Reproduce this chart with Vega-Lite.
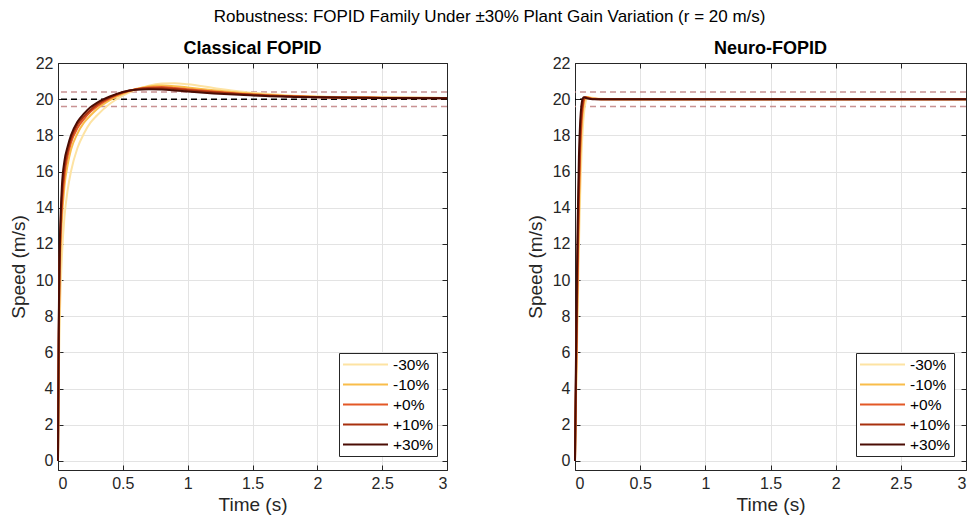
{
  "$schema": "https://vega.github.io/schema/vega-lite/v6.json",
  "padding": {"left": 8, "top": 7, "right": 5, "bottom": 5},
  "title": {"text": "Robustness: FOPID Family Under ±30% Plant Gain Variation  (r = 20 m/s)", "fontSize": 17, "fontWeight": "normal", "color": "#000000", "anchor": "middle", "offset": 14},
  "datasets": {
    "band": [{"y": 19.6}, {"y": 20.4}],
    "ref": [{"y": 20}],
    "classical": [
      {"t":0,"v":0,"g":"-30%"},{"t":0.005,"v":4,"g":"-30%"},{"t":0.01,"v":6.5,"g":"-30%"},{"t":0.02,"v":9.5,"g":"-30%"},{"t":0.03,"v":11.3,"g":"-30%"},{"t":0.05,"v":13.5,"g":"-30%"},{"t":0.075,"v":15,"g":"-30%"},{"t":0.1,"v":16,"g":"-30%"},{"t":0.15,"v":17.3,"g":"-30%"},{"t":0.2,"v":18.1,"g":"-30%"},{"t":0.25,"v":18.7,"g":"-30%"},{"t":0.3,"v":19.1,"g":"-30%"},{"t":0.4,"v":19.75,"g":"-30%"},{"t":0.5,"v":20.2,"g":"-30%"},{"t":0.6,"v":20.52,"g":"-30%"},{"t":0.7,"v":20.75,"g":"-30%"},{"t":0.8,"v":20.86,"g":"-30%"},{"t":0.9,"v":20.88,"g":"-30%"},{"t":1.0,"v":20.82,"g":"-30%"},{"t":1.2,"v":20.62,"g":"-30%"},{"t":1.4,"v":20.43,"g":"-30%"},{"t":1.6,"v":20.3,"g":"-30%"},{"t":1.8,"v":20.2,"g":"-30%"},{"t":2.0,"v":20.15,"g":"-30%"},{"t":2.5,"v":20.1,"g":"-30%"},{"t":3.0,"v":20.07,"g":"-30%"},
      {"t":0,"v":0,"g":"-10%"},{"t":0.005,"v":5.3,"g":"-10%"},{"t":0.01,"v":8.5,"g":"-10%"},{"t":0.02,"v":11.6,"g":"-10%"},{"t":0.03,"v":13.3,"g":"-10%"},{"t":0.05,"v":15.2,"g":"-10%"},{"t":0.075,"v":16.4,"g":"-10%"},{"t":0.1,"v":17.2,"g":"-10%"},{"t":0.15,"v":18.1,"g":"-10%"},{"t":0.2,"v":18.7,"g":"-10%"},{"t":0.25,"v":19.1,"g":"-10%"},{"t":0.3,"v":19.45,"g":"-10%"},{"t":0.4,"v":19.95,"g":"-10%"},{"t":0.5,"v":20.3,"g":"-10%"},{"t":0.6,"v":20.56,"g":"-10%"},{"t":0.7,"v":20.7,"g":"-10%"},{"t":0.8,"v":20.75,"g":"-10%"},{"t":0.9,"v":20.72,"g":"-10%"},{"t":1.0,"v":20.65,"g":"-10%"},{"t":1.2,"v":20.49,"g":"-10%"},{"t":1.4,"v":20.35,"g":"-10%"},{"t":1.6,"v":20.25,"g":"-10%"},{"t":1.8,"v":20.18,"g":"-10%"},{"t":2.0,"v":20.13,"g":"-10%"},{"t":2.5,"v":20.08,"g":"-10%"},{"t":3.0,"v":20.06,"g":"-10%"},
      {"t":0,"v":0,"g":"+0%"},{"t":0.005,"v":6,"g":"+0%"},{"t":0.01,"v":9.5,"g":"+0%"},{"t":0.02,"v":12.5,"g":"+0%"},{"t":0.03,"v":14,"g":"+0%"},{"t":0.05,"v":15.8,"g":"+0%"},{"t":0.075,"v":16.9,"g":"+0%"},{"t":0.1,"v":17.6,"g":"+0%"},{"t":0.15,"v":18.4,"g":"+0%"},{"t":0.2,"v":18.9,"g":"+0%"},{"t":0.25,"v":19.3,"g":"+0%"},{"t":0.3,"v":19.6,"g":"+0%"},{"t":0.4,"v":20.05,"g":"+0%"},{"t":0.5,"v":20.35,"g":"+0%"},{"t":0.6,"v":20.55,"g":"+0%"},{"t":0.7,"v":20.65,"g":"+0%"},{"t":0.8,"v":20.67,"g":"+0%"},{"t":0.9,"v":20.62,"g":"+0%"},{"t":1.0,"v":20.55,"g":"+0%"},{"t":1.2,"v":20.42,"g":"+0%"},{"t":1.4,"v":20.3,"g":"+0%"},{"t":1.6,"v":20.22,"g":"+0%"},{"t":1.8,"v":20.16,"g":"+0%"},{"t":2.0,"v":20.12,"g":"+0%"},{"t":2.5,"v":20.08,"g":"+0%"},{"t":3.0,"v":20.06,"g":"+0%"},
      {"t":0,"v":0,"g":"+10%"},{"t":0.005,"v":6.5,"g":"+10%"},{"t":0.01,"v":10,"g":"+10%"},{"t":0.02,"v":13,"g":"+10%"},{"t":0.03,"v":14.6,"g":"+10%"},{"t":0.05,"v":16.2,"g":"+10%"},{"t":0.075,"v":17.15,"g":"+10%"},{"t":0.1,"v":17.8,"g":"+10%"},{"t":0.15,"v":18.6,"g":"+10%"},{"t":0.2,"v":19.05,"g":"+10%"},{"t":0.25,"v":19.4,"g":"+10%"},{"t":0.3,"v":19.7,"g":"+10%"},{"t":0.4,"v":20.1,"g":"+10%"},{"t":0.5,"v":20.38,"g":"+10%"},{"t":0.6,"v":20.54,"g":"+10%"},{"t":0.7,"v":20.6,"g":"+10%"},{"t":0.8,"v":20.6,"g":"+10%"},{"t":0.9,"v":20.56,"g":"+10%"},{"t":1.0,"v":20.5,"g":"+10%"},{"t":1.2,"v":20.38,"g":"+10%"},{"t":1.4,"v":20.28,"g":"+10%"},{"t":1.6,"v":20.2,"g":"+10%"},{"t":1.8,"v":20.15,"g":"+10%"},{"t":2.0,"v":20.11,"g":"+10%"},{"t":2.5,"v":20.07,"g":"+10%"},{"t":3.0,"v":20.05,"g":"+10%"},
      {"t":0,"v":0,"g":"+30%"},{"t":0.005,"v":7,"g":"+30%"},{"t":0.01,"v":10.5,"g":"+30%"},{"t":0.02,"v":13.5,"g":"+30%"},{"t":0.03,"v":15.2,"g":"+30%"},{"t":0.05,"v":16.6,"g":"+30%"},{"t":0.075,"v":17.4,"g":"+30%"},{"t":0.1,"v":18,"g":"+30%"},{"t":0.15,"v":18.75,"g":"+30%"},{"t":0.2,"v":19.2,"g":"+30%"},{"t":0.25,"v":19.55,"g":"+30%"},{"t":0.3,"v":19.8,"g":"+30%"},{"t":0.4,"v":20.15,"g":"+30%"},{"t":0.5,"v":20.4,"g":"+30%"},{"t":0.6,"v":20.52,"g":"+30%"},{"t":0.7,"v":20.55,"g":"+30%"},{"t":0.8,"v":20.53,"g":"+30%"},{"t":0.9,"v":20.48,"g":"+30%"},{"t":1.0,"v":20.42,"g":"+30%"},{"t":1.2,"v":20.32,"g":"+30%"},{"t":1.4,"v":20.24,"g":"+30%"},{"t":1.6,"v":20.17,"g":"+30%"},{"t":1.8,"v":20.13,"g":"+30%"},{"t":2.0,"v":20.1,"g":"+30%"},{"t":2.5,"v":20.06,"g":"+30%"},{"t":3.0,"v":20.05,"g":"+30%"}
    ],
    "neuro": [
      {"t":0,"v":0,"g":"-30%"},{"t":0.005,"v":2.2,"g":"-30%"},{"t":0.01,"v":4.2,"g":"-30%"},{"t":0.015,"v":6.2,"g":"-30%"},{"t":0.02,"v":8.2,"g":"-30%"},{"t":0.03,"v":11.8,"g":"-30%"},{"t":0.04,"v":14.8,"g":"-30%"},{"t":0.05,"v":17,"g":"-30%"},{"t":0.06,"v":18.4,"g":"-30%"},{"t":0.07,"v":19.3,"g":"-30%"},{"t":0.08,"v":19.8,"g":"-30%"},{"t":0.09,"v":20.05,"g":"-30%"},{"t":0.1,"v":20.12,"g":"-30%"},{"t":0.12,"v":20.1,"g":"-30%"},{"t":0.15,"v":20.05,"g":"-30%"},{"t":0.2,"v":20.02,"g":"-30%"},{"t":0.3,"v":20,"g":"-30%"},{"t":3.0,"v":20,"g":"-30%"},
      {"t":0,"v":0,"g":"-10%"},{"t":0.005,"v":2.7,"g":"-10%"},{"t":0.01,"v":5,"g":"-10%"},{"t":0.015,"v":7.3,"g":"-10%"},{"t":0.02,"v":9.6,"g":"-10%"},{"t":0.03,"v":13.5,"g":"-10%"},{"t":0.04,"v":16.5,"g":"-10%"},{"t":0.05,"v":18.3,"g":"-10%"},{"t":0.06,"v":19.3,"g":"-10%"},{"t":0.07,"v":19.85,"g":"-10%"},{"t":0.08,"v":20.05,"g":"-10%"},{"t":0.09,"v":20.1,"g":"-10%"},{"t":0.1,"v":20.1,"g":"-10%"},{"t":0.12,"v":20.05,"g":"-10%"},{"t":0.15,"v":20.02,"g":"-10%"},{"t":0.2,"v":20,"g":"-10%"},{"t":0.3,"v":20,"g":"-10%"},{"t":3.0,"v":20,"g":"-10%"},
      {"t":0,"v":0,"g":"+0%"},{"t":0.005,"v":3,"g":"+0%"},{"t":0.01,"v":5.5,"g":"+0%"},{"t":0.015,"v":8,"g":"+0%"},{"t":0.02,"v":10.5,"g":"+0%"},{"t":0.03,"v":14.5,"g":"+0%"},{"t":0.04,"v":17.3,"g":"+0%"},{"t":0.05,"v":18.8,"g":"+0%"},{"t":0.06,"v":19.6,"g":"+0%"},{"t":0.07,"v":20,"g":"+0%"},{"t":0.08,"v":20.1,"g":"+0%"},{"t":0.09,"v":20.1,"g":"+0%"},{"t":0.1,"v":20.08,"g":"+0%"},{"t":0.12,"v":20.04,"g":"+0%"},{"t":0.15,"v":20.02,"g":"+0%"},{"t":0.2,"v":20,"g":"+0%"},{"t":0.3,"v":20,"g":"+0%"},{"t":3.0,"v":20,"g":"+0%"},
      {"t":0,"v":0,"g":"+10%"},{"t":0.005,"v":3.3,"g":"+10%"},{"t":0.01,"v":6.1,"g":"+10%"},{"t":0.015,"v":8.8,"g":"+10%"},{"t":0.02,"v":11.4,"g":"+10%"},{"t":0.03,"v":15.5,"g":"+10%"},{"t":0.04,"v":18,"g":"+10%"},{"t":0.05,"v":19.2,"g":"+10%"},{"t":0.06,"v":19.8,"g":"+10%"},{"t":0.07,"v":20.08,"g":"+10%"},{"t":0.08,"v":20.1,"g":"+10%"},{"t":0.09,"v":20.08,"g":"+10%"},{"t":0.1,"v":20.06,"g":"+10%"},{"t":0.12,"v":20.03,"g":"+10%"},{"t":0.15,"v":20.01,"g":"+10%"},{"t":0.2,"v":20,"g":"+10%"},{"t":0.3,"v":20,"g":"+10%"},{"t":3.0,"v":20,"g":"+10%"},
      {"t":0,"v":0,"g":"+30%"},{"t":0.005,"v":4,"g":"+30%"},{"t":0.01,"v":7.3,"g":"+30%"},{"t":0.015,"v":10.4,"g":"+30%"},{"t":0.02,"v":13,"g":"+30%"},{"t":0.03,"v":16.8,"g":"+30%"},{"t":0.04,"v":18.8,"g":"+30%"},{"t":0.05,"v":19.7,"g":"+30%"},{"t":0.06,"v":20.05,"g":"+30%"},{"t":0.07,"v":20.1,"g":"+30%"},{"t":0.08,"v":20.08,"g":"+30%"},{"t":0.09,"v":20.05,"g":"+30%"},{"t":0.1,"v":20.03,"g":"+30%"},{"t":0.12,"v":20.01,"g":"+30%"},{"t":0.15,"v":20,"g":"+30%"},{"t":0.2,"v":20,"g":"+30%"},{"t":0.3,"v":20,"g":"+30%"},{"t":3.0,"v":20,"g":"+30%"}
    ]
  },
  "hconcat": [
    {
      "title": "Classical FOPID",
      "width": 389,
      "height": 407,
      "layer": [
        {"data": {"name": "band"}, "mark": {"type": "rule", "strokeDash": [6, 4], "color": "#bf7f80", "strokeWidth": 1.5, "opacity": 0.85}, "encoding": {"y": {"field": "y", "type": "quantitative", "scale": {"domain": [-0.5, 22], "nice": false, "zero": false}, "axis": null}}},
        {"data": {"name": "ref"}, "mark": {"type": "rule", "strokeDash": [6, 4], "color": "#000000", "strokeWidth": 1.5}, "encoding": {"y": {"field": "y", "type": "quantitative", "axis": null}}},
        {"data": {"name": "classical"}, "mark": {"type": "line", "strokeWidth": 2, "interpolate": "monotone"},
         "encoding": {
           "x": {"field": "t", "type": "quantitative", "scale": {"domain": [0, 3], "nice": false, "zero": false}, "axis": {"title": "Time (s)", "values": [0, 0.5, 1, 1.5, 2, 2.5, 3], "format": "~g", "grid": true}},
           "y": {"field": "v", "type": "quantitative", "axis": {"title": "Speed (m/s)", "values": [0, 2, 4, 6, 8, 10, 12, 14, 16, 18, 20, 22], "grid": true}},
           "color": {"field": "g", "type": "nominal", "scale": {"domain": ["-30%", "-10%", "+0%", "+10%", "+30%"], "range": ["#fde3a3", "#f9bd4a", "#e35826", "#a8300e", "#4a0c04"]},
             "legend": {"orient": "none", "legendX": 281, "legendY": 290, "title": null, "fillColor": "#ffffff", "strokeColor": "#262626", "padding": 3, "symbolType": "M-1,0H5", "symbolSize": 225, "symbolStrokeWidth": 2, "labelFontSize": 15.5, "labelOffset": 34, "rowPadding": 3, "labelColor": "#000000"}}
         }},
        {"data": {"name": "ref"}, "mark": {"type": "point", "opacity": 0}, "encoding": {
          "x": {"datum": 0, "type": "quantitative", "axis": {"orient": "top", "labels": false, "title": null, "grid": false, "values": [0, 0.5, 1, 1.5, 2, 2.5, 3]}},
          "y": {"field": "y", "type": "quantitative", "axis": {"orient": "right", "labels": false, "title": null, "grid": false, "values": [0, 2, 4, 6, 8, 10, 12, 14, 16, 18, 20, 22]}}}}
      ],
      "resolve": {"axis": {"x": "independent", "y": "independent"}}
    },
    {
      "title": "Neuro-FOPID",
      "width": 391,
      "height": 407,
      "layer": [
        {"data": {"name": "band"}, "mark": {"type": "rule", "strokeDash": [6, 4], "color": "#bf7f80", "strokeWidth": 1.5, "opacity": 0.85}, "encoding": {"y": {"field": "y", "type": "quantitative", "scale": {"domain": [-0.5, 22], "nice": false, "zero": false}, "axis": null}}},
        {"data": {"name": "ref"}, "mark": {"type": "rule", "strokeDash": [6, 4], "color": "#000000", "strokeWidth": 1.5}, "encoding": {"y": {"field": "y", "type": "quantitative", "axis": null}}},
        {"data": {"name": "neuro"}, "mark": {"type": "line", "strokeWidth": 2, "interpolate": "monotone"},
         "encoding": {
           "x": {"field": "t", "type": "quantitative", "scale": {"domain": [0, 3], "nice": false, "zero": false}, "axis": {"title": "Time (s)", "values": [0, 0.5, 1, 1.5, 2, 2.5, 3], "format": "~g", "grid": true}},
           "y": {"field": "v", "type": "quantitative", "axis": {"title": "Speed (m/s)", "values": [0, 2, 4, 6, 8, 10, 12, 14, 16, 18, 20, 22], "grid": true}},
           "color": {"field": "g", "type": "nominal", "scale": {"domain": ["-30%", "-10%", "+0%", "+10%", "+30%"], "range": ["#fde3a3", "#f9bd4a", "#e35826", "#a8300e", "#4a0c04"]},
             "legend": {"orient": "none", "legendX": 281, "legendY": 290, "title": null, "fillColor": "#ffffff", "strokeColor": "#262626", "padding": 3, "symbolType": "M-1,0H5", "symbolSize": 225, "symbolStrokeWidth": 2, "labelFontSize": 15.5, "labelOffset": 34, "rowPadding": 3, "labelColor": "#000000"}}
         }},
        {"data": {"name": "ref"}, "mark": {"type": "point", "opacity": 0}, "encoding": {
          "x": {"datum": 0, "type": "quantitative", "axis": {"orient": "top", "labels": false, "title": null, "grid": false, "values": [0, 0.5, 1, 1.5, 2, 2.5, 3]}},
          "y": {"field": "y", "type": "quantitative", "axis": {"orient": "right", "labels": false, "title": null, "grid": false, "values": [0, 2, 4, 6, 8, 10, 12, 14, 16, 18, 20, 22]}}}}
      ],
      "resolve": {"axis": {"x": "independent", "y": "independent"}}
    }
  ],
  "spacing": 73,
  "resolve": {"scale": {"color": "independent"}, "legend": {"color": "independent"}},
  "config": {
    "font": "Liberation Sans",
    "view": {"stroke": "#262626", "strokeWidth": 1},
    "axis": {"domainColor": "#262626", "tickColor": "#262626", "labelColor": "#262626", "titleColor": "#262626", "labelFontSize": 16, "titleFontSize": 19, "titleFontWeight": "normal", "gridColor": "#e3e3e3", "tickSize": -5, "labelPadding": 10, "titlePadding": 4, "domainWidth": 1, "tickWidth": 1},
    "axisY": {"titlePadding": 7},
    "title": {"fontSize": 18, "fontWeight": "bold", "color": "#000000", "offset": -3}
  }
}
